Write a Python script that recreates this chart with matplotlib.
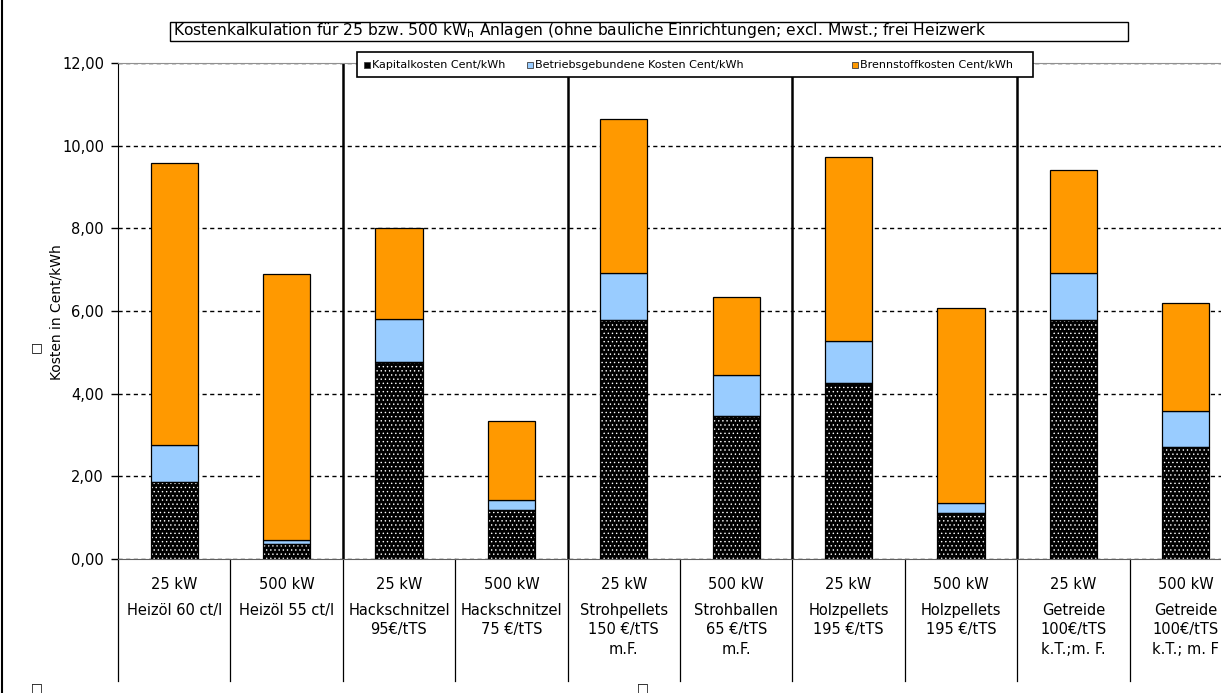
#!/usr/bin/env python3
"""
Kostenkalkulation Heizanlagen
Gestapelte Säulen: Kapital-, Betriebs- und Brennstoffkosten je kWh
"""

import numpy as np
import matplotlib.pyplot as plt
import matplotlib.transforms as mtransforms
from matplotlib.patches import Rectangle
from matplotlib.lines import Line2D

# Anlagengröße und Brennstoff je Säule
leistung = ['25 kW', '500 kW'] * 5
brennstoff = [
    'Heizöl 60 ct/l', 'Heizöl 55 ct/l',
    'Hackschnitzel\n95€/tTS', 'Hackschnitzel\n75 €/tTS',
    'Strohpellets\n150 €/tTS\nm.F.', 'Strohballen\n65 €/tTS\nm.F.',
    'Holzpellets\n195 €/tTS', 'Holzpellets\n195 €/tTS',
    'Getreide\n100€/tTS\nk.T.;m. F.', 'Getreide\n100€/tTS\nk.T.; m. F',
]

# Kostenanteile in Cent/kWh
kapitalkosten = [1.87, 0.36, 4.77, 1.19, 5.78, 3.46, 4.27, 1.12, 5.78, 2.72]
betriebskosten = [0.89, 0.10, 1.04, 0.24, 1.15, 0.98, 1.00, 0.23, 1.15, 0.87]
brennstoffkosten = [6.81, 6.44, 2.21, 1.91, 3.72, 1.91, 4.45, 4.73, 2.48, 2.61]

legende = ['Kapitalkosten Cent/kWh', 'Betriebsgebundene Kosten Cent/kWh',
           'Brennstoffkosten Cent/kWh']

W, H = 1221, 693
BLAU = '#99CCFF'
ORANGE = '#FF9900'

plt.rcParams['hatch.linewidth'] = 0.5


def fx(px):
    return px / W


def fy(py):
    return 1 - py / H


def draw_bars(ax):
    x = np.arange(len(leistung))
    kap = np.array(kapitalkosten)
    betr = np.array(betriebskosten)
    brenn = np.array(brennstoffkosten)
    w = 0.42

    # schwarz mit weißen Punkten, Umriss extra
    ax.bar(x, kap, w, color='black', edgecolor='white', hatch='....', linewidth=0, zorder=3)
    ax.bar(x, kap, w, fill=False, edgecolor='black', linewidth=0.9, zorder=4)
    ax.bar(x, betr, w, bottom=kap, color=BLAU, edgecolor='black', linewidth=0.9, zorder=3)
    ax.bar(x, brenn, w, bottom=kap + betr, color=ORANGE, edgecolor='black', linewidth=0.9, zorder=3)


def draw_categories(ax):
    trans = mtransforms.blended_transform_factory(ax.transData, ax.transAxes)
    n = len(leistung)

    # Trennlinien zwischen den Brennstoffgruppen
    for b in np.arange(1.5, n - 1, 2):
        ax.axvline(b, color='black', linewidth=1.8, zorder=2)

    # Linien im Beschriftungsbereich
    for b in np.arange(-0.5, n + 0.5, 1):
        ax.plot([b, b], [0, -0.245], transform=trans, color='black',
                linewidth=0.9, clip_on=False)

    for i in range(n):
        ax.text(i, -0.052, leistung[i], transform=trans, ha='center', va='center',
                fontsize=10.5)
        for j, zeile in enumerate(brennstoff[i].split('\n')):
            ax.text(i, -0.103 - j * 0.040, zeile, transform=trans, ha='center',
                    va='center', fontsize=10.5)


def draw_legend(fig):
    fig.add_artist(Rectangle((fx(357), fy(77)), fx(676), 25 / H, transform=fig.transFigure,
                             facecolor='white', edgecolor='black', linewidth=1.2))
    farben = ['black', BLAU, ORANGE]
    xpos = [372, 535, 860]
    for farbe, text, px in zip(farben, legende, xpos):
        fig.add_artist(Rectangle((fx(px - 8), fy(68)), fx(6), 6 / H,
                                 transform=fig.transFigure, facecolor=farbe,
                                 edgecolor='#404040', linewidth=0.6))
        fig.text(fx(px), fy(65), text, ha='left', va='center', fontsize=8)


def main():
    fig = plt.figure(figsize=(W / 100, H / 100), dpi=100)
    ax = fig.add_axes([fx(118), fy(559), fx(1124), 496 / H])

    draw_bars(ax)
    draw_categories(ax)

    ax.set_xlim(-0.5, 9.5)
    ax.set_ylim(0, 12)
    ax.set_xticks([])
    yt = np.arange(0, 13, 2)
    ax.set_yticks(yt)
    ax.set_yticklabels([f'{v:.2f}'.replace('.', ',') for v in yt])
    ax.tick_params(axis='y', direction='out', length=5, width=1, labelsize=10.5, pad=5)
    ax.yaxis.grid(True, linestyle=(0, (3, 2.5)), color='black', linewidth=1, zorder=1)
    ax.set_axisbelow(True)

    ax.spines['left'].set_color('black')
    ax.spines['bottom'].set_color('#606060')
    ax.spines['top'].set_color('#909090')
    ax.spines['right'].set_visible(False)

    fig.text(fx(57), fy(312), 'Kosten in Cent/kWh', rotation=90, ha='center',
             va='center', fontsize=10)

    # Titel im Rahmen
    fig.add_artist(Rectangle((fx(170), fy(41)), fx(958), 19 / H, transform=fig.transFigure,
                             facecolor='white', edgecolor='black', linewidth=1))
    fig.text(fx(173), fy(31), 'Kostenkalkulation für 25 bzw. 500 kW$_\\mathregular{h}$ '
             'Anlagen (ohne bauliche Einrichtungen; excl. Mwst.; frei Heizwerk',
             ha='left', va='center', fontsize=11.2)

    draw_legend(fig)

    # Rahmen links und leere Platzhalter
    fig.add_artist(Line2D([fx(2), fx(2)], [0, 1], color='black', linewidth=1.5))
    for px, py in [(37, 348), (37, 688), (643, 688)]:
        fig.text(fx(px), fy(py), '\u25a1', ha='center', va='center', fontsize=9)

    fig.savefig('out.png', dpi=100)


if __name__ == "__main__":
    main()
